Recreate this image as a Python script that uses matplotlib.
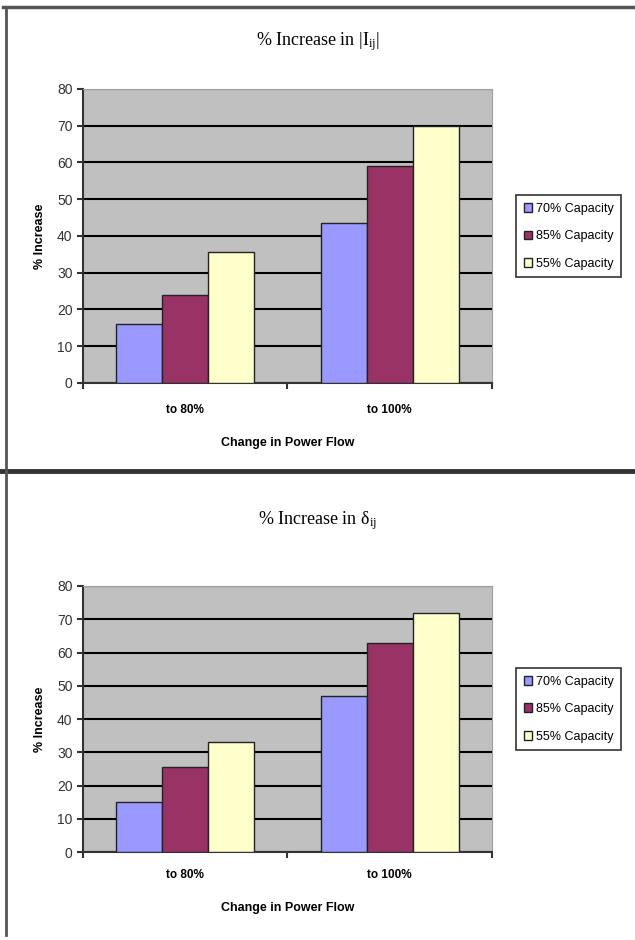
import numpy as np
from matplotlib import pyplot as plt
from matplotlib.lines import Line2D

categories = ["to 80%", "to 100%"]
series_names = ["70% Capacity", "85% Capacity", "55% Capacity"]
colors = ["#9999FF", "#993366", "#FFFFCC"]

# % increase in |Iij|
current_vals = [
    [16, 43.5],
    [24, 59],
    [35.5, 70],
]
# % increase in delta_ij
angle_vals = [
    [15, 47],
    [25.5, 63],
    [33, 72],
]

plt.rcParams['mathtext.fontset'] = 'custom'
plt.rcParams['mathtext.rm'] = 'Liberation Serif'
plt.rcParams['mathtext.it'] = 'Liberation Serif:italic'

fig = plt.figure(figsize=(6.35, 9.4), dpi=100)


def draw_panel(rect, values, title, title_y, legend_y, lab_pad):
    ax = fig.add_axes(rect)
    ax.set_facecolor("#C0C0C0")
    x = np.arange(len(categories))
    w = 0.225
    for i, (vals, c, name) in enumerate(zip(values, colors, series_names)):
        ax.bar(x + (i - 1) * w, vals, width=w, color=c, edgecolor="#222222",
               linewidth=1, label=name, zorder=3)
    ax.set_xlim(-0.5, len(categories) - 0.5)
    ax.set_ylim(0, 80)
    ax.set_yticks(range(0, 81, 10))
    ax.yaxis.grid(True, color="black", linewidth=1.5, zorder=1)
    ax.set_axisbelow(True)
    ax.set_xticks(x)
    ax.set_xticklabels(categories, fontsize=8.5, fontweight="bold",
                       family="Liberation Sans")
    ax.set_xticks([-0.5, 0.5, 1.5], minor=True)
    ax.tick_params(axis="x", which="major", length=0, pad=lab_pad)
    ax.tick_params(axis="x", which="minor", length=4, width=1.5, color="#333333")
    ax.tick_params(axis="y", length=4, width=1.5, color="#333333", labelsize=10,
                   labelcolor="#333333")
    for lab in ax.get_yticklabels():
        lab.set_family("Liberation Sans")
    ax.set_xlabel("Change in Power Flow", fontsize=9, fontweight="bold",
                  family="Liberation Sans", labelpad=15)
    ax.set_ylabel("% Increase", fontsize=9, fontweight="bold",
                  family="Liberation Sans", labelpad=8)
    for s in ["left", "bottom"]:
        ax.spines[s].set_color("#333333")
        ax.spines[s].set_linewidth(1.5)
    for s in ["top", "right"]:
        ax.spines[s].set_color("#A0A0A0")
    fig.text(0.5, title_y, title, ha="center", va="center", fontsize=13,
             family="Liberation Serif")
    leg = ax.legend(loc="upper left", bbox_to_anchor=(0.803, legend_y),
                    bbox_transform=fig.transFigure, frameon=True,
                    fancybox=False, edgecolor="black", handlelength=0.7,
                    handleheight=0.7, handletextpad=0.3, labelspacing=1.25,
                    borderpad=0.6, prop={"family": "Liberation Sans", "size": 9})
    leg.get_frame().set_linewidth(1.2)
    return ax


draw_panel([0.1307, 0.5926, 0.644, 0.3128], current_vals,
           r"% Increase in |I$_{\rm ij}$|", 0.956, 0.799, 15)
draw_panel([0.1307, 0.0936, 0.644, 0.283], angle_vals,
           "% Increase in δ$_{\\rm ij}$", 0.446, 0.296, 12)

# outer frame lines
fig.add_artist(Line2D([0.005, 1.0], [0.9925, 0.9925], color="#555555", lw=2.5))
fig.add_artist(Line2D([0.0, 1.0], [0.4985, 0.4985], color="#333333", lw=3.5))
fig.add_artist(Line2D([0.009, 0.009], [0.005, 0.9925], color="#555555", lw=2))

fig.savefig("out.png", dpi=100)
